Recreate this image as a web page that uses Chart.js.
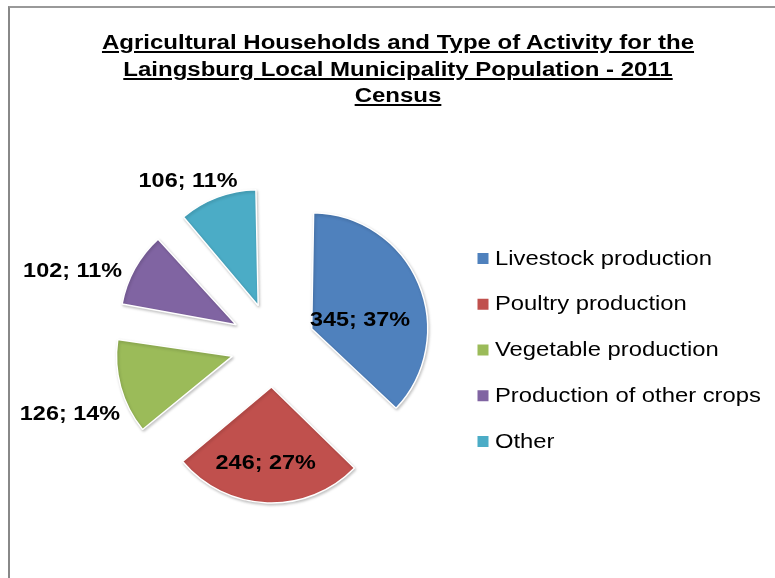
<!DOCTYPE html>
<html><head><meta charset="utf-8">
<script src="https://cdn.jsdelivr.net/npm/chart.js@4.4.1/dist/chart.umd.min.js"></script>
<style>
html,body{margin:0;padding:0;background:#fff;}
#wrap{position:relative;width:775px;height:578px;overflow:hidden;background:#fff;}
#frame{position:absolute;left:8px;top:6px;width:820px;height:620px;border-left:2px solid #888;border-top:2px solid #999;}
#title{position:absolute;left:0;top:29px;width:796px;text-align:center;font:bold 20px "Liberation Sans",Arial,sans-serif;line-height:26.5px;color:#000;text-decoration:underline;text-decoration-thickness:2px;text-underline-offset:2px;transform:scaleX(1.2);transform-origin:398px 0;white-space:nowrap;}
canvas{position:absolute;left:0;top:0;}
</style></head>
<body><div id="wrap"><div id="frame"></div><canvas id="c" width="775" height="578"></canvas><div id="title"></div></div>
<script>
// ---- data ----
const titleLines = ['Agricultural Households and Type of Activity for the','Laingsburg Local Municipality Population - 2011','Census'];
const categories = ['Livestock production','Poultry production','Vegetable production','Production of other crops','Other'];
const households = [345, 246, 126, 102, 106];

// ---- style ----
const colors = ['#4F81BD','#C0504D','#9BBB59','#8064A2','#4BACC6'];
const R = 116;          // pie radius
const EXPLODE = 42;     // slice explosion distance
// label placement relative to pie centre: distance (x radius) and angular shift (deg)
const labelPlace = [{d:0.78,s:7},{d:1.02,s:1.4},{d:1.85,s:-3.4},{d:1.84,s:-8.8},{d:1.59,s:-6.8}];

document.getElementById('title').innerHTML = titleLines.join('<br>');

const total = households.reduce((a,b)=>a+b,0);
const valueLabels = households.map(v => v + '; ' + Math.round(v/total*100) + '%');

const fixArcs = {
  id:'fixArcs',
  beforeDatasetsDraw(chart){
    const meta = chart.getDatasetMeta(0);
    const off = chart.data.datasets[0].offset/4;
    meta.data.forEach(a=>{
      const fix = 1 - Math.sin(Math.min(Math.PI, a.circumference));
      a.outerRadius = R - off*fix;
    });
    const ctx = chart.ctx;
    ctx.save();
    ctx.shadowColor='rgba(0,0,0,0.22)';
    ctx.shadowBlur=3; ctx.shadowOffsetX=1; ctx.shadowOffsetY=1.5;
  },
  afterDatasetsDraw(chart){
    const ctx = chart.ctx;
    ctx.restore();
    const meta = chart.getDatasetMeta(0);
    ctx.save();
    ctx.font = 'bold 20px "Liberation Sans", Arial, sans-serif';
    ctx.fillStyle = '#000';
    ctx.textAlign='center'; ctx.textBaseline='middle';
    meta.data.forEach((a,i)=>{
      const mid = (a.startAngle+a.endAngle)/2 + labelPlace[i].s*Math.PI/180;
      const dist = labelPlace[i].d*R;
      const x = a.x + Math.cos(mid)*dist, y = a.y + Math.sin(mid)*dist;
      ctx.save(); ctx.translate(x,y); ctx.scale(1.17,1);
      ctx.fillText(valueLabels[i],0,0); ctx.restore();
    });
    ctx.restore();
  },
  afterDraw(chart){
    const ctx = chart.ctx;
    ctx.save();
    ctx.font = '20px "Liberation Sans", Arial, sans-serif';
    ctx.textBaseline='middle'; ctx.textAlign='left';
    const x0 = 477.5, y0 = 258.5, step = 45.75;
    categories.forEach((c,i)=>{
      const y = y0 + i*step;
      ctx.fillStyle = colors[i];
      ctx.fillRect(x0, y-5.5, 11, 11);
      ctx.fillStyle = '#000';
      ctx.save(); ctx.translate(x0+17.5, y+0.5); ctx.scale(1.19,1);
      ctx.fillText(c,0,0); ctx.restore();
    });
    ctx.restore();
  }
};

new Chart(document.getElementById('c'), {
  type:'pie',
  data:{ labels:categories, datasets:[{ data:households, backgroundColor:colors, borderColor:'#ffffff', borderWidth:1.5, offset:EXPLODE*4 }]},
  options:{
    responsive:false, animation:false, radius:R,
    layout:{padding:{left:100,right:329,top:200,bottom:88}},
    plugins:{legend:{display:false}, tooltip:{enabled:false}, title:{display:false}},
    events:[]
  },
  plugins:[fixArcs]
});
</script></body></html>
